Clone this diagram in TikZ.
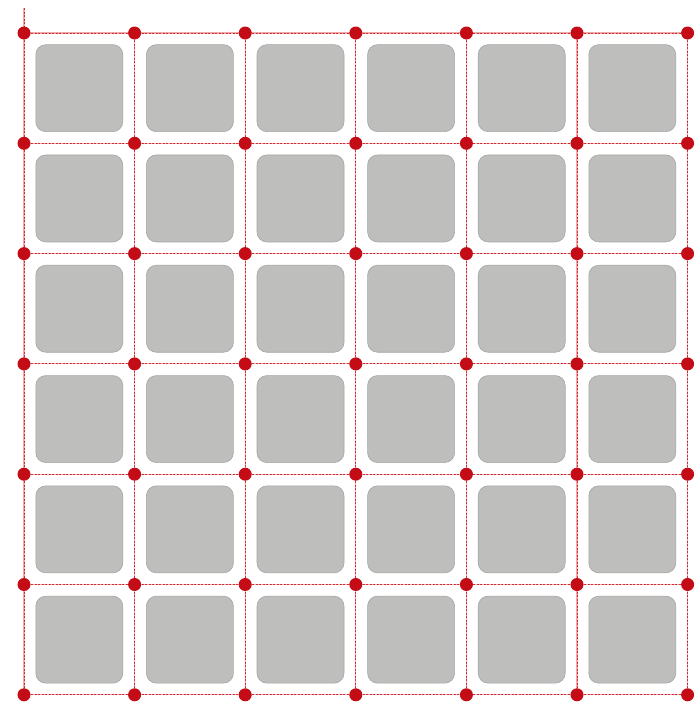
\documentclass[tikz,border=0pt]{standalone}
\usetikzlibrary{backgrounds}
\definecolor{dotred}{RGB}{196,12,22}
\definecolor{linered}{RGB}{205,45,55}
\definecolor{linepink}{RGB}{240,170,170}
\definecolor{tilegray}{RGB}{190,190,188}
\definecolor{tileedge}{RGB}{165,165,163}
\tikzset{
  dotnode/.style={circle,fill=dotred,inner sep=0pt,minimum size=13pt},
  tile/.style={rectangle,rounded corners=10pt,fill=tilegray,draw=tileedge,line width=0.6pt,minimum width=87pt,minimum height=87pt,inner sep=0pt},
  gridline/.style={draw=linered,line width=0.9pt,dash pattern=on 2pt off 1.5pt,
    preaction={draw=linepink,line width=1.1pt,solid}}
}
\begin{document}
\begin{tikzpicture}[x=1pt,y=-1pt]
\useasboundingbox (0,0) rectangle (700,704);
% dots
\foreach \i in {0,...,6}{
  \foreach \j in {0,...,6}{
    \node[dotnode] (d-\i-\j) at ({24+110.6*\i},{33+110.3*\j}) {};
  }
}
% tiles
\foreach \i in {0,...,5}{
  \foreach \j in {0,...,5}{
    \node[tile] (t-\i-\j) at ({24+110.6*\i+55.3},{33+110.3*\j+55.15}) {};
  }
}
\coordinate (topext) at (24,8);
\begin{scope}[on background layer]
\fill[white] (0,0) rectangle (700,704);
\foreach \i in {0,...,6}{
  \foreach \j [count=\k from 1] in {0,...,5}{
    \draw[gridline] (d-\i-\j.center) -- (d-\i-\k.center);
    \draw[gridline] (d-\j-\i.center) -- (d-\k-\i.center);
  }
}
\draw[gridline] (topext) -- (d-0-0.center);
\end{scope}
\end{tikzpicture}
\end{document}
